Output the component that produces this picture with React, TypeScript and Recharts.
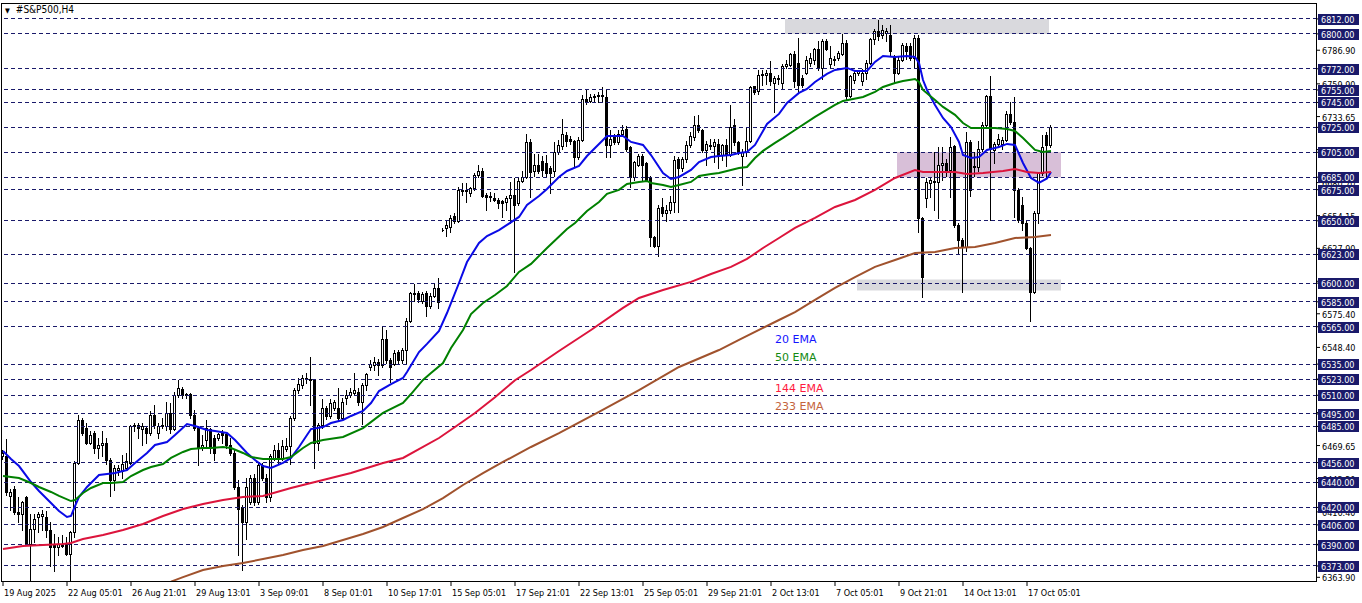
import { Bar, ComposedChart, Line, ReferenceArea, ReferenceLine, XAxis, YAxis } from "recharts";

const SYMBOL = "#S&P500,H4";
const NAVY = "#1a1a6a";
const FONT = "'DejaVu Sans Condensed', 'DejaVu Sans', sans-serif";

// one slot per H4 bar, incl. the empty space right of the last candle
const SLOT_COUNT = 329;
const LABEL_EVERY = 16;
const TIME_LABELS = [
  "19 Aug 2025", "22 Aug 05:01", "26 Aug 21:01", "29 Aug 13:01", "3 Sep 09:01", "8 Sep 01:01",
  "10 Sep 17:01", "15 Sep 05:01", "17 Sep 21:01", "22 Sep 13:01", "25 Sep 05:01", "29 Sep 21:01",
  "2 Oct 13:01", "7 Oct 05:01", "9 Oct 21:01", "14 Oct 13:01", "17 Oct 05:01",
];

// [open, high, low, close]
const OHLC: [number, number, number, number][] = [
  [6461, 6466, 6459, 6464], [6461, 6475, 6430, 6432], [6429, 6435, 6418, 6432], [6435, 6437, 6415, 6416],
  [6416, 6428, 6408, 6415], [6415, 6425, 6402, 6424], [6428, 6429, 6390, 6391], [6391, 6415, 6361, 6403],
  [6403, 6415, 6392, 6411], [6412, 6416, 6400, 6415], [6413, 6418, 6402, 6415], [6412, 6417, 6396, 6402],
  [6402, 6408, 6373, 6388], [6391, 6399, 6369, 6388], [6388, 6396, 6382, 6391], [6389, 6398, 6388, 6390],
  [6391, 6396, 6382, 6383], [6383, 6401, 6362, 6400], [6400, 6457, 6396, 6456], [6456, 6494, 6455, 6490],
  [6490, 6492, 6478, 6480], [6484, 6488, 6471, 6472], [6472, 6481, 6471, 6478], [6480, 6481, 6464, 6468],
  [6468, 6476, 6460, 6470], [6470, 6481, 6461, 6472], [6472, 6476, 6455, 6458], [6458, 6460, 6429, 6442],
  [6442, 6454, 6434, 6452], [6450, 6454, 6446, 6452], [6449, 6462, 6444, 6455], [6452, 6464, 6450, 6457],
  [6456, 6486, 6455, 6485], [6485, 6488, 6481, 6486], [6486, 6488, 6476, 6484], [6483, 6488, 6470, 6485],
  [6484, 6485, 6472, 6480], [6480, 6497, 6478, 6494], [6494, 6502, 6484, 6486], [6480, 6488, 6476, 6485],
  [6485, 6492, 6484, 6486], [6485, 6505, 6482, 6496], [6496, 6504, 6480, 6483], [6483, 6513, 6482, 6510],
  [6510, 6522, 6509, 6516], [6515, 6517, 6508, 6510], [6510, 6512, 6508, 6511], [6511, 6512, 6492, 6494],
  [6494, 6498, 6482, 6484], [6484, 6485, 6454, 6468], [6468, 6478, 6466, 6470], [6474, 6490, 6468, 6484],
  [6483, 6484, 6464, 6468], [6476, 6478, 6458, 6464], [6476, 6480, 6474, 6479], [6480, 6482, 6472, 6478],
  [6479, 6480, 6468, 6470], [6470, 6476, 6462, 6464], [6464, 6466, 6435, 6436], [6436, 6442, 6382, 6419],
  [6420, 6422, 6370, 6408], [6408, 6444, 6395, 6436], [6424, 6446, 6423, 6444], [6444, 6447, 6422, 6424],
  [6424, 6456, 6423, 6454], [6454, 6456, 6442, 6444], [6444, 6447, 6424, 6428], [6428, 6463, 6425, 6461],
  [6460, 6470, 6458, 6466], [6466, 6472, 6455, 6460], [6460, 6474, 6458, 6469], [6467, 6476, 6465, 6469],
  [6469, 6493, 6455, 6492], [6492, 6516, 6490, 6514], [6514, 6524, 6512, 6519], [6518, 6526, 6516, 6524],
  [6523, 6528, 6520, 6524], [6523, 6541, 6502, 6522], [6522, 6523, 6452, 6472], [6472, 6488, 6466, 6486],
  [6486, 6507, 6484, 6500], [6500, 6501, 6491, 6493], [6493, 6507, 6492, 6504], [6500, 6506, 6498, 6505],
  [6500, 6516, 6490, 6492], [6492, 6508, 6490, 6505], [6508, 6514, 6503, 6510], [6510, 6516, 6509, 6513],
  [6512, 6528, 6511, 6514], [6513, 6516, 6502, 6505], [6505, 6520, 6487, 6518], [6518, 6528, 6514, 6527],
  [6533, 6538, 6530, 6535], [6534, 6541, 6530, 6537], [6537, 6539, 6526, 6534], [6534, 6565, 6533, 6555],
  [6555, 6562, 6536, 6538], [6538, 6540, 6521, 6533], [6535, 6546, 6534, 6544], [6545, 6546, 6536, 6538],
  [6538, 6548, 6536, 6546], [6546, 6572, 6535, 6570], [6570, 6593, 6569, 6592], [6592, 6599, 6586, 6591],
  [6592, 6594, 6585, 6587], [6586, 6593, 6584, 6591], [6592, 6594, 6574, 6582], [6582, 6592, 6580, 6590],
  [6590, 6599, 6589, 6596], [6596, 6604, 6580, 6585], [6643, 6644, 6642, 6643], [6644, 6650, 6638, 6647],
  [6645, 6655, 6641, 6652], [6654, 6656, 6648, 6650], [6650, 6677, 6649, 6675], [6674, 6680, 6671, 6675],
  [6675, 6680, 6665, 6674], [6672, 6677, 6670, 6676], [6676, 6688, 6675, 6687], [6687, 6695, 6685, 6690],
  [6690, 6692, 6669, 6670], [6671, 6672, 6659, 6669], [6669, 6673, 6666, 6670], [6668, 6672, 6666, 6667],
  [6667, 6668, 6660, 6664], [6666, 6667, 6653, 6664], [6665, 6670, 6659, 6668], [6668, 6681, 6648, 6671],
  [6671, 6684, 6609, 6663], [6664, 6684, 6663, 6682], [6682, 6690, 6681, 6685], [6685, 6720, 6684, 6713],
  [6713, 6716, 6669, 6689], [6690, 6704, 6686, 6695], [6695, 6704, 6688, 6690], [6698, 6702, 6686, 6691],
  [6696, 6703, 6685, 6688], [6692, 6694, 6672, 6688], [6690, 6713, 6686, 6705], [6705, 6715, 6704, 6711],
  [6710, 6732, 6708, 6720], [6719, 6721, 6710, 6714], [6716, 6718, 6712, 6714], [6714, 6715, 6693, 6701],
  [6701, 6717, 6700, 6715], [6715, 6751, 6714, 6748], [6748, 6756, 6744, 6745], [6746, 6752, 6745, 6749],
  [6749, 6752, 6746, 6750], [6750, 6753, 6745, 6751], [6751, 6757, 6745, 6750], [6749, 6755, 6701, 6711],
  [6711, 6723, 6701, 6716], [6718, 6720, 6712, 6713], [6713, 6723, 6712, 6720], [6720, 6727, 6718, 6723],
  [6724, 6726, 6706, 6708], [6709, 6710, 6677, 6685], [6685, 6698, 6683, 6697], [6695, 6704, 6694, 6702],
  [6702, 6704, 6682, 6695], [6696, 6697, 6682, 6683], [6685, 6686, 6630, 6637], [6637, 6638, 6629, 6630],
  [6630, 6663, 6622, 6660], [6661, 6668, 6654, 6656], [6656, 6663, 6650, 6659], [6659, 6670, 6656, 6665],
  [6665, 6702, 6657, 6699], [6700, 6701, 6657, 6692], [6692, 6701, 6690, 6700], [6700, 6714, 6697, 6711],
  [6711, 6721, 6709, 6718], [6717, 6734, 6715, 6727], [6727, 6735, 6721, 6723], [6723, 6724, 6705, 6707],
  [6707, 6714, 6695, 6712], [6710, 6716, 6708, 6711], [6710, 6716, 6697, 6713], [6712, 6716, 6692, 6703],
  [6703, 6712, 6699, 6711], [6711, 6716, 6694, 6703], [6703, 6743, 6702, 6725], [6727, 6732, 6711, 6713],
  [6713, 6714, 6704, 6705], [6702, 6708, 6679, 6705], [6705, 6725, 6702, 6714], [6714, 6758, 6713, 6757],
  [6758, 6758, 6752, 6753], [6754, 6771, 6752, 6767], [6767, 6771, 6759, 6768], [6767, 6771, 6760, 6769],
  [6769, 6778, 6759, 6762], [6761, 6766, 6737, 6765], [6764, 6767, 6760, 6765], [6761, 6776, 6756, 6774],
  [6774, 6779, 6773, 6776], [6775, 6785, 6774, 6784], [6784, 6786, 6757, 6762], [6777, 6797, 6753, 6759],
  [6765, 6767, 6757, 6759], [6769, 6782, 6768, 6779], [6777, 6785, 6774, 6781], [6779, 6789, 6776, 6788],
  [6788, 6794, 6771, 6773], [6773, 6796, 6764, 6794], [6794, 6796, 6787, 6788], [6776, 6790, 6773, 6781],
  [6780, 6782, 6775, 6779], [6781, 6786, 6779, 6785], [6784, 6800, 6783, 6793], [6793, 6795, 6748, 6750],
  [6750, 6767, 6749, 6766], [6763, 6771, 6761, 6769], [6769, 6771, 6767, 6770], [6762, 6772, 6759, 6769],
  [6769, 6779, 6764, 6777], [6777, 6797, 6776, 6796], [6796, 6804, 6792, 6802], [6802, 6811, 6795, 6798],
  [6799, 6807, 6797, 6803], [6801, 6805, 6794, 6802], [6799, 6807, 6782, 6786], [6782, 6783, 6761, 6769],
  [6769, 6782, 6768, 6779], [6779, 6793, 6778, 6791], [6790, 6793, 6780, 6786], [6790, 6793, 6779, 6781],
  [6781, 6799, 6773, 6797], [6797, 6799, 6641, 6652], [6652, 6653, 6589, 6605], [6668, 6684, 6661, 6681],
  [6680, 6684, 6669, 6683], [6682, 6705, 6659, 6681], [6681, 6709, 6652, 6695], [6695, 6709, 6683, 6696],
  [6696, 6700, 6686, 6691], [6691, 6717, 6669, 6709], [6710, 6711, 6645, 6647], [6647, 6648, 6623, 6635],
  [6635, 6636, 6593, 6629], [6629, 6721, 6626, 6713], [6713, 6715, 6670, 6675], [6694, 6705, 6686, 6693],
  [6693, 6714, 6690, 6708], [6708, 6729, 6706, 6727], [6727, 6751, 6726, 6750], [6750, 6766, 6651, 6708],
  [6707, 6713, 6696, 6712], [6712, 6720, 6710, 6716], [6712, 6717, 6708, 6715], [6715, 6738, 6714, 6736],
  [6736, 6745, 6728, 6729], [6729, 6749, 6653, 6675], [6675, 6676, 6649, 6651], [6663, 6669, 6643, 6648],
  [6648, 6650, 6627, 6628], [6628, 6629, 6570, 6593], [6593, 6658, 6592, 6656], [6656, 6689, 6648, 6688],
  [6688, 6719, 6687, 6709], [6719, 6721, 6685, 6711], [6711, 6727, 6709, 6725],
];

// moving averages: [bar slot, price]
const EMA20: [number, number][] = [
  [0, 6465.3], [2, 6458.9], [4, 6453.2], [7, 6440.4], [9, 6433.2], [12, 6423.5], [14, 6417.1], [16, 6412.3],
  [17, 6413.1], [18, 6421.1], [19, 6428.4], [21, 6436.4], [24, 6446.0], [26, 6446.8], [28, 6447.6], [31, 6450.0],
  [33, 6455.7], [36, 6463.7], [38, 6470.1], [41, 6472.5], [43, 6478.1], [46, 6486.9], [48, 6485.3], [51, 6482.1],
  [53, 6481.3], [56, 6479.7], [58, 6474.1], [61, 6463.7], [63, 6458.0], [65, 6453.2], [67, 6451.6], [70, 6455.7],
  [72, 6459.7], [74, 6468.5], [76, 6478.1], [77, 6482.9], [80, 6484.5], [82, 6487.7], [85, 6490.2], [87, 6493.4],
  [90, 6497.4], [92, 6503.8], [94, 6513.4], [97, 6519.0], [100, 6523.9], [101, 6528.7], [104, 6544.7], [106, 6551.2],
  [109, 6561.6], [111, 6576.0], [114, 6600.1], [116, 6616.9], [119, 6632.2], [121, 6637.8], [124, 6642.6], [126, 6646.7],
  [129, 6653.1], [131, 6662.7], [134, 6669.9], [136, 6675.5], [139, 6685.2], [141, 6690.0], [144, 6694.0], [146, 6702.0],
  [149, 6711.7], [151, 6718.1], [155, 6718.1], [157, 6713.3], [160, 6710.9], [162, 6702.8], [165, 6688.4], [167, 6683.6],
  [169, 6685.2], [172, 6690.8], [174, 6697.2], [177, 6701.2], [179, 6702.0], [182, 6702.8], [184, 6704.4], [186, 6705.2],
  [188, 6710.9], [191, 6727.7], [194, 6735.8], [196, 6744.6], [199, 6752.6], [201, 6755.8], [203, 6761.4], [206, 6767.9],
  [208, 6771.1], [211, 6772.7], [213, 6770.3], [216, 6770.3], [218, 6777.5], [220, 6782.3], [223, 6781.5], [226, 6782.3],
  [228, 6781.5], [229, 6776.7], [230, 6763.0], [231, 6755.0], [233, 6743.0], [235, 6732.5], [237, 6725.3], [239, 6713.3],
  [240, 6702.8], [242, 6700.4], [244, 6701.2], [246, 6706.9], [249, 6709.3], [251, 6711.7], [253, 6710.9], [255, 6696.4],
  [257, 6684.4], [259, 6680.4], [261, 6684.0], [262, 6689.2],
];

const EMA50: [number, number][] = [
  [0, 6445.2], [4, 6443.6], [7, 6439.6], [9, 6436.4], [12, 6432.4], [14, 6429.2], [17, 6425.1], [18, 6425.9],
  [20, 6431.6], [22, 6435.6], [25, 6439.6], [27, 6439.6], [30, 6440.4], [32, 6445.2], [35, 6450.0], [37, 6452.4],
  [40, 6454.8], [42, 6459.7], [45, 6464.5], [47, 6466.9], [50, 6467.7], [52, 6467.7], [55, 6468.5], [57, 6467.7],
  [60, 6463.7], [62, 6460.5], [65, 6458.9], [70, 6458.9], [72, 6460.5], [75, 6467.7], [77, 6471.7], [80, 6474.1],
  [85, 6476.5], [90, 6483.7], [95, 6495.8], [100, 6503.8], [102, 6511.0], [105, 6522.3], [107, 6527.9], [110, 6535.9],
  [112, 6547.9], [115, 6562.4], [117, 6575.2], [120, 6584.1], [123, 6590.5], [126, 6597.7], [129, 6609.0], [132, 6615.4],
  [136, 6628.2], [141, 6643.5], [143, 6648.3], [146, 6657.9], [149, 6665.1], [151, 6671.6], [154, 6674.8], [156, 6679.6],
  [159, 6681.2], [161, 6682.0], [162, 6680.4], [165, 6678.8], [167, 6677.2], [169, 6678.8], [172, 6681.2], [174, 6686.0],
  [177, 6687.6], [179, 6688.4], [182, 6690.8], [184, 6692.4], [186, 6693.2], [188, 6700.4], [190, 6706.1], [193, 6712.5],
  [195, 6716.5], [198, 6722.9], [203, 6733.4], [208, 6743.0], [210, 6746.2], [215, 6749.4], [218, 6753.4], [220, 6757.4],
  [223, 6760.6], [225, 6762.2], [228, 6763.8], [229, 6761.4], [230, 6755.0], [233, 6747.0], [235, 6741.4], [238, 6735.0],
  [240, 6728.5], [242, 6724.5], [245, 6724.5], [248, 6724.5], [251, 6723.7], [253, 6722.1], [255, 6716.5], [258, 6706.9],
  [260, 6705.3], [262, 6706.1],
];

const EMA144: [number, number][] = [
  [0, 6386.6], [5, 6389.0], [10, 6389.8], [15, 6390.6], [17, 6391.4], [20, 6394.6], [25, 6397.9], [30, 6401.9],
  [35, 6406.7], [40, 6413.1], [45, 6418.7], [50, 6422.7], [55, 6425.9], [60, 6428.4], [65, 6429.2], [72, 6435.6],
  [80, 6442.0], [87, 6447.6], [95, 6455.7], [100, 6459.7], [109, 6475.7], [113, 6484.5], [118, 6495.8], [123, 6508.4],
  [128, 6522.1], [132, 6530.3], [139, 6545.5], [147, 6562.4], [155, 6580.1], [159, 6588.1], [165, 6594.5], [172, 6601.0],
  [177, 6607.3], [182, 6613.0], [186, 6619.4], [190, 6628.2], [194, 6636.2], [198, 6644.3], [203, 6652.3], [208, 6661.1],
  [213, 6666.7], [218, 6674.8], [223, 6684.4], [228, 6690.8], [230, 6689.2], [238, 6689.2], [241, 6687.6], [245, 6688.4],
  [250, 6690.0], [253, 6691.6], [256, 6689.2], [259, 6688.4], [262, 6689.2],
];

const EMA233: [number, number][] = [
  [42, 6360.5], [45, 6364.1], [50, 6369.8], [55, 6373.0], [60, 6375.4], [65, 6378.6], [70, 6381.8], [75, 6385.8],
  [80, 6389.0], [85, 6393.8], [90, 6398.7], [95, 6404.3], [100, 6411.5], [105, 6418.7], [110, 6427.5], [115, 6438.0],
  [120, 6447.6], [125, 6456.5], [132, 6468.5], [139, 6479.7], [149, 6496.6], [159, 6514.2], [169, 6532.7], [179, 6546.3],
  [184, 6554.4], [194, 6570.4], [198, 6576.8], [203, 6586.5], [208, 6596.1], [213, 6604.9], [218, 6613.0], [223, 6618.6],
  [228, 6624.1], [233, 6625.0], [238, 6628.2], [243, 6629.0], [248, 6632.2], [253, 6636.2], [258, 6637.0], [262, 6638.6],
];

// horizontal levels (navy tags on the price scale)
const LEVELS = [
  6812, 6800, 6772, 6755, 6745, 6725, 6705, 6685, 6675, 6650, 6623, 6600, 6585, 6565, 6535, 6523, 6510, 6495, 6485,
  6456, 6440, 6420, 6406, 6390, 6373,
];
const PRICE_TICKS = [
  6363.9, 6390.35, 6416.4, 6443.2, 6469.65, 6496.1, 6522.55, 6548.4, 6575.4, 6601.5, 6627.9, 6654.15, 6680.7,
  6707.15, 6733.65, 6759.9, 6786.9,
];
const Y_DOMAIN: [number, number] = [6360.15, 6824.8];

// boxes: [first slot, last slot, low, high]
const RESIST_ZONE = [196, 261, 6800, 6812];
const PIVOT_ZONE = [224, 264, 6685, 6705];
const SUPPORT_ZONE = [214, 264, 6594, 6603];

const EMA_LEGEND = [
  { name: "20 EMA", color: "#1414ff", line: "#0a0ae6", key: "e20" },
  { name: "50 EMA", color: "#138a13", line: "#008000", key: "e50" },
  { name: "144 EMA", color: "#ff1a40", line: "#dc143c", key: "e144" },
  { name: "233 EMA", color: "#c4643c", line: "#a0522d", key: "e233" },
];

const rows: any[] = Array.from({ length: SLOT_COUNT }, (_, i) => {
  const c = OHLC[i];
  return c
    ? { i, range: [c[2], c[1]], o: c[0], h: c[1], l: c[2], c: c[3] }
    : { i };
});
const fill = (series: [number, number][], key: string) =>
  series.forEach(([slot, v]) => {
    rows[slot][key] = v;
  });
fill(EMA20, "e20");
fill(EMA50, "e50");
fill(EMA144, "e144");
fill(EMA233, "e233");

function Candle(props: any) {
  const { x, y, width, height, payload } = props;
  if (!payload || payload.o == null) return null;
  const top = Math.min(y, y + height);
  const k = Math.abs(height) / (payload.h - payload.l || 1);
  const py = (v: number) => top + (payload.h - v) * k;
  const cx = Math.floor(x + width / 2) + 0.5;
  const up = payload.c >= payload.o;
  const bt = Math.round(py(Math.max(payload.o, payload.c))) + 0.5;
  const bb = Math.round(py(Math.min(payload.o, payload.c))) + 0.5;
  return (
    <g shapeRendering="crispEdges">
      <line x1={cx} x2={cx} y1={Math.round(py(payload.h))} y2={Math.round(py(payload.l)) + 1} stroke="#000" />
      <path
        d={`M${cx - 1},${bt}H${cx + 1}V${bb}H${cx - 1}Z`}
        fill={up ? "#fff" : "#000"}
        stroke="#000"
      />
    </g>
  );
}

function PriceTick(props: any) {
  const { x, y, payload } = props;
  const v = payload.value as number;
  if (LEVELS.includes(v)) {
    return (
      <g>
        <line x1={x} x2={x + 2} y1={y} y2={y} stroke="#000" />
        <rect x={x + 1} y={Math.round(y) - 5} width={41} height={11} fill={NAVY} />
        <text x={x + 4} y={Math.round(y) + 4} fill="#fff" fontSize={9} fontFamily={FONT}>
          {v.toFixed(2)}
        </text>
      </g>
    );
  }
  return (
    <g>
      <line x1={x} x2={x + 3} y1={y} y2={y} stroke="#000" />
      <text x={x + 5} y={Math.round(y) + 3.5} fill="#000" fontSize={9} fontFamily={FONT}>
        {v.toFixed(2)}
      </text>
    </g>
  );
}

function TimeTick(props: any) {
  const { x, y, payload } = props;
  const label = TIME_LABELS[payload.value / LABEL_EVERY];
  if (!label) return null;
  return (
    <g>
      <line x1={x} x2={x} y1={y} y2={y + 4} stroke="#000" />
      <text x={x + 1} y={y + 14} fill="#000" fontSize={9} fontFamily={FONT}>
        {label}
      </text>
    </g>
  );
}

export default function App() {
  return (
    <div style={{ position: "absolute", left: 0, top: 0, width: 1362, height: 603, background: "#fff" }}>
      <ComposedChart
        width={1362}
        height={603}
        data={rows}
        margin={{ top: 3, right: 0, bottom: 0, left: 1 }}
      >
        <XAxis
          dataKey="i"
          type="category"
          interval={LABEL_EVERY - 1}
          tick={(p: any) => <TimeTick {...p} />}
          tickLine={false}
          axisLine={false}
          tickSize={0}
          tickMargin={0}
          height={21}
        />
        <YAxis
          orientation="right"
          type="number"
          domain={Y_DOMAIN}
          allowDataOverflow
          ticks={[...PRICE_TICKS, ...LEVELS]}
          interval={0}
          tick={(p: any) => <PriceTick {...p} />}
          tickLine={false}
          axisLine={false}
          tickSize={0}
          tickMargin={0}
          width={45}
        />
        {[RESIST_ZONE, SUPPORT_ZONE].map(([a, b, lo, hi]) => (
          <ReferenceArea key={`g${lo}`} x1={a} x2={b} y1={lo} y2={hi} fill="#d9d9dd" fillOpacity={1} stroke="none" />
        ))}
        <ReferenceArea
          x1={PIVOT_ZONE[0]}
          x2={PIVOT_ZONE[1]}
          y1={PIVOT_ZONE[2]}
          y2={PIVOT_ZONE[3]}
          fill="#d8bfd8"
          fillOpacity={1}
          stroke="none"
        />
        {LEVELS.map((lv) => (
          <ReferenceLine key={lv} y={lv} stroke={NAVY} strokeDasharray="4 3" shapeRendering="crispEdges" />
        ))}
        <Bar dataKey="range" isAnimationActive={false} shape={(p: any) => <Candle {...p} />} />
        {EMA_LEGEND.map((e) => (
          <Line
            key={e.key}
            dataKey={e.key}
            type="linear"
            stroke={e.line}
            strokeWidth={2}
            dot={false}
            activeDot={false}
            connectNulls
            isAnimationActive={false}
          />
        ))}
      </ComposedChart>
      <div
        style={{
          position: "absolute",
          left: 1,
          top: 3,
          width: 1316,
          height: 579,
          border: "1px solid #000",
          boxSizing: "border-box",
          pointerEvents: "none",
        }}
      />
      <div style={{ position: "absolute", left: 5, top: 4, fontSize: 10, fontFamily: FONT, color: "#000", whiteSpace: "nowrap" }}>
        <span style={{ fontSize: 7, marginRight: 6 }}>▼</span>
        {SYMBOL}
      </div>
      {EMA_LEGEND.map((e, k) => (
        <div
          key={e.name}
          style={{
            position: "absolute",
            left: 775,
            top: [333, 351, 382, 400][k],
            fontSize: 11,
            lineHeight: "13px",
            fontFamily: "'DejaVu Sans', sans-serif",
            color: e.color,
            whiteSpace: "nowrap",
          }}
        >
          {e.name}
        </div>
      ))}
    </div>
  );
}
